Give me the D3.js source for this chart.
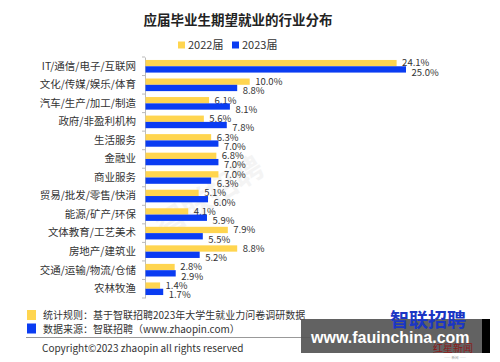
<!DOCTYPE html>
<html lang="zh">
<head>
<meta charset="UTF-8">
<title>应届毕业生期望就业的行业分布</title>
<script src="https://d3js.org/d3.v7.min.js"></script>
<style>
  body { margin: 0; background: #fff; }
  text { font-family: "Noto Sans CJK SC", "Noto Sans", sans-serif; }
</style>
</head>
<body>
<script>
const categories = ["IT/通信/电子/互联网", "文化/传媒/娱乐/体育", "汽车/生产/加工/制造", "政府/非盈利机构",
  "生活服务", "金融业", "商业服务", "贸易/批发/零售/快消", "能源/矿产/环保", "文体教育/工艺美术",
  "房地产/建筑业", "交通/运输/物流/仓储", "农林牧渔"];
const values2022 = [24.1, 10.0, 6.1, 5.6, 6.3, 6.8, 7.0, 5.1, 4.1, 7.9, 8.8, 2.8, 1.4];
const values2023 = [25.0, 8.8, 8.1, 7.8, 7.0, 7.0, 6.3, 6.0, 5.9, 5.5, 5.2, 2.9, 1.7];
const seriesNames = ["2022届", "2023届"];
const colors = ["#FFD54F", "#0A3CF2"];

const W = 500, H = 362;
const svg = d3.select("body").append("svg").attr("width", W).attr("height", H);

const x = d3.scaleLinear().domain([0, 25]).range([145, 405.5]);
const y = d3.scaleBand().domain(categories).range([57, 298]).paddingInner(0.32).paddingOuter(0.16);
const sub = d3.scaleBand().domain([0, 1]).range([0, y.bandwidth()]);

// faint watermark
svg.append("text").attr("transform", "translate(215,205) rotate(-32)")
  .attr("text-anchor", "middle").attr("font-size", 30).attr("font-weight", "bold")
  .attr("fill", "#000").attr("opacity", 0.04).text("智联招聘");

// title
svg.append("text").attr("x", 238).attr("y", 25).attr("text-anchor", "middle")
  .attr("font-size", 13.5).attr("font-weight", "bold").attr("fill", "#222")
  .text("应届毕业生期望就业的行业分布");

// legend
const leg = svg.append("g");
[178, 232].forEach((lx, i) => {
  leg.append("rect").attr("x", lx).attr("y", 41.5).attr("width", 7).attr("height", 7).attr("fill", colors[i]);
  leg.append("text").attr("x", lx + 10).attr("y", 49).attr("font-size", 11).attr("fill", "#333").text(seriesNames[i]);
});

// axis
const yAxis = d3.axisLeft(y).tickSize(0).tickPadding(9);
const ax = svg.append("g").attr("transform", "translate(145,0)").call(yAxis);
ax.select(".domain").attr("stroke", "#bbb");
ax.selectAll("text").attr("font-size", 10.5).attr("fill", "#333")
  .style("font-family", '"Noto Sans CJK SC", sans-serif');
const bounds = categories.map(c => y(c) - y.step() * y.paddingInner() / 2).concat([298]);
ax.selectAll(".bd").data(bounds).enter().append("line")
  .attr("x1", -3).attr("x2", 0).attr("y1", d => d).attr("y2", d => d).attr("stroke", "#bbb");

// bars
const rows = categories.map((c, i) => ({ c, v: [values2022[i], values2023[i]] }));
const g = svg.append("g");
rows.forEach(r => {
  r.v.forEach((v, k) => {
    const by = y(r.c) + sub(k);
    g.append("rect").attr("x", x(0) + 0.5).attr("y", by).attr("width", x(v) - x(0))
      .attr("height", sub.bandwidth()).attr("fill", colors[k]);
    g.append("text").attr("x", x(v) + 6).attr("y", by + sub.bandwidth() / 2 + (k ? 3 : 0))
      .attr("dy", "0.35em").attr("font-size", 9.5).attr("fill", "#333").text(v.toFixed(1) + "%");
  });
});

// footer notes
const notes = ["统计规则：基于智联招聘2023年大学生就业力问卷调研数据", "数据来源：智联招聘（www.zhaopin.com）"];
notes.forEach((t, i) => {
  svg.append("rect").attr("x", 27).attr("y", 310 + i * 13.5).attr("width", 9).attr("height", 10).attr("fill", colors[i]);
  svg.append("text").attr("x", 43).attr("y", 319 + i * 13.5).attr("font-size", 10).attr("fill", "#333").text(t);
});
svg.append("line").attr("x1", 26).attr("x2", 310).attr("y1", 337.5).attr("y2", 337.5)
  .attr("stroke", "#999").attr("stroke-width", 1.2);
svg.append("text").attr("x", 42).attr("y", 352).attr("font-size", 10).attr("fill", "#333")
  .text("Copyright©2023 zhaopin all rights reserved");

// site watermark + logo
svg.append("rect").attr("x", 301).attr("y", 319).attr("width", 181).attr("height", 34).attr("fill", "#555").attr("opacity", 0.92);
svg.append("rect").attr("x", 482).attr("y", 319).attr("width", 8).attr("height", 34).attr("fill", "#000");
svg.append("text").attr("x", 390).attr("y", 327).attr("font-size", 19).attr("font-weight", "bold")
  .attr("fill", "#1B36C4").text("智联招聘");
svg.append("text").attr("x", 311).attr("y", 343).attr("font-size", 16).attr("font-weight", "bold")
  .attr("fill", "#fff").style("font-family", '"Liberation Sans", Arial, sans-serif').text("www.fauinchina.com");
svg.append("text").attr("x", 433).attr("y", 352).attr("font-size", 10).attr("fill", "#8B1A1A").text("红星新闻");
svg.append("text").attr("x", 455).attr("y", 359).attr("text-anchor", "middle").attr("font-size", 3.5)
  .attr("fill", "#999").text("—— 新闻 ——");
</script>
</body>
</html>
